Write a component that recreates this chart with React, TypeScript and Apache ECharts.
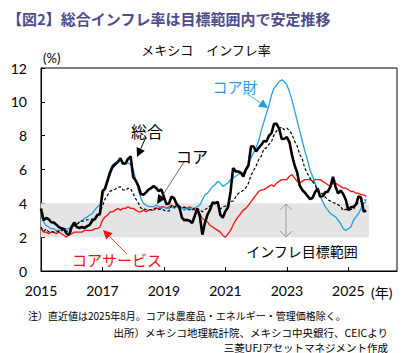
import React, { useEffect, useRef } from 'react';
import * as echarts from 'echarts';

// Monthly data, Jan 2015 .. Aug 2025 (index 0 = Jan 2015)
const headline = [
  3.7, 3.0, 3.14, 3.06, 2.88, 2.87, 2.74, 2.59, 2.52, 2.48, 2.21, 2.13,
  2.61, 2.87, 2.6, 2.54, 2.6, 2.54, 2.65, 2.73, 2.97, 3.06, 3.31, 3.36,
  4.72, 4.86, 5.35, 5.82, 6.16, 6.31, 6.44, 6.66, 6.35, 6.37, 6.63, 6.77,
  5.55, 5.34, 5.04, 4.55, 4.51, 4.65, 4.81, 4.9, 5.02, 4.9, 4.72, 4.83,
  4.37, 3.94, 4.0, 4.41, 4.28, 3.95, 3.78, 3.16, 3.0, 3.02, 2.97, 2.83,
  3.24, 3.7, 3.25, 2.15, 2.84, 3.33, 3.62, 4.05, 4.01, 4.09, 3.33, 3.15,
  3.54, 3.76, 4.67, 6.08, 5.89, 5.88, 5.81, 5.59, 6.0, 6.24, 7.37, 7.36,
  7.07, 7.28, 7.45, 7.68, 7.65, 7.99, 8.15, 8.7, 8.7, 8.41, 7.8, 7.82,
  7.91, 7.62, 6.85, 6.25, 5.84, 5.06, 4.79, 4.64, 4.45, 4.26, 4.32, 4.66,
  4.88, 4.4, 4.42, 4.65, 4.69, 4.98, 5.57, 4.99, 4.58, 4.76, 4.55, 4.21,
  3.59, 3.77, 3.8, 3.93, 4.42, 4.32, 3.51, 3.57,
];
const core = [
  2.6, 2.35, 2.48, 2.31, 2.33, 2.3, 2.31, 2.34, 2.36, 2.47, 2.34, 2.41,
  2.64, 2.66, 2.76, 2.88, 2.95, 2.97, 3.03, 3.03, 3.07, 3.1, 3.29, 3.44,
  3.84, 4.26, 4.48, 4.72, 4.78, 4.83, 4.94, 4.98, 4.8, 4.77, 4.89, 4.87,
  4.56, 4.27, 4.02, 3.71, 3.69, 3.62, 3.63, 3.63, 3.67, 3.73, 3.63, 3.68,
  3.6, 3.54, 3.55, 3.87, 3.77, 3.85, 3.82, 3.78, 3.75, 3.68, 3.65, 3.59,
  3.73, 3.66, 3.6, 3.5, 3.64, 3.71, 3.85, 3.97, 3.99, 3.98, 3.66, 3.8,
  3.84, 3.87, 4.12, 4.13, 4.37, 4.58, 4.66, 4.78, 4.92, 5.19, 5.67, 5.94,
  6.21, 6.59, 6.78, 7.22, 7.28, 7.49, 7.65, 8.05, 8.28, 8.42, 8.51, 8.35,
  8.45, 8.29, 8.09, 7.67, 7.39, 6.89, 6.64, 6.08, 5.76, 5.5, 5.3, 5.09,
  4.76, 4.64, 4.55, 4.37, 4.21, 4.13, 4.05, 4.0, 3.91, 3.8, 3.58, 3.65,
  3.61, 3.65, 3.64, 3.93, 4.06, 4.13, 4.23, 4.18,
];
const coreGoods = [
  3.3, 2.9, 2.7, 2.6, 2.5, 2.5, 2.4, 2.4, 2.4, 2.5, 2.5, 2.5,
  2.7, 2.8, 2.8, 2.9, 3.0, 3.1, 3.2, 3.3, 3.4, 3.6, 3.8, 3.9,
  4.3, 5.0, 5.5, 6.0, 6.3, 6.4, 6.5, 6.6, 6.3, 6.3, 6.4, 6.3,
  6.0, 5.4, 4.8, 4.3, 4.0, 3.9, 3.8, 3.8, 3.8, 3.9, 3.8, 3.7,
  3.8, 3.7, 3.7, 3.8, 3.7, 3.8, 3.7, 3.7, 3.6, 3.7, 3.6, 3.7,
  3.7, 3.8, 3.9, 4.2, 4.5, 4.6, 4.8, 5.0, 5.1, 5.3, 5.2, 5.0,
  5.1, 5.2, 5.4, 5.5, 5.6, 5.7, 5.8, 5.8, 6.0, 6.3, 6.7, 7.0,
  7.3, 7.7, 8.3, 8.8, 9.3, 9.8, 10.4, 10.8, 11.0, 11.2, 11.3, 11.2,
  11.0, 10.6, 10.1, 9.5, 8.9, 8.3, 7.7, 7.1, 6.6, 6.0, 5.6, 5.2,
  4.8, 4.4, 4.1, 3.8, 3.6, 3.4, 3.3, 3.2, 3.0, 2.8, 2.5, 2.4,
  2.5, 2.6, 3.0, 3.2, 3.4, 3.7, 4.0, 4.1,
];
const coreServices = [
  2.5, 2.3, 2.3, 2.2, 2.3, 2.3, 2.2, 2.3, 2.2, 2.1, 2.0, 2.2,
  2.2, 2.3, 2.3, 2.3, 2.3, 2.4, 2.4, 2.4, 2.4, 2.5, 2.5, 2.6,
  3.0, 3.2, 3.3, 3.5, 3.5, 3.6, 3.7, 3.6, 3.7, 3.7, 3.8, 3.7,
  3.7, 3.6, 3.5, 3.5, 3.6, 3.5, 3.6, 3.6, 3.6, 3.7, 3.7, 3.8,
  3.8, 3.7, 3.8, 3.9, 3.8, 3.9, 3.8, 3.7, 3.8, 3.7, 3.8, 3.7,
  3.6, 3.5, 3.4, 3.1, 3.0, 2.9, 2.7, 2.6, 2.5, 2.4, 2.3, 2.1,
  2.0, 2.2, 2.4, 2.7, 3.0, 3.2, 3.4, 3.6, 3.7, 3.9, 4.1, 4.3,
  4.5, 4.7, 4.8, 4.8, 4.9, 5.0, 5.1, 5.0, 5.2, 5.3, 5.4, 5.4,
  5.4, 5.6, 5.7, 5.5, 5.3, 5.2, 5.3, 5.4, 5.4, 5.4, 5.3, 5.4,
  5.4, 5.4, 5.3, 5.2, 5.1, 5.0, 5.2, 5.2, 5.1, 5.0, 4.9, 4.9,
  4.8, 4.7, 4.7, 4.6, 4.6, 4.5, 4.5, 4.4,
];
const START_YEAR = 2015;
const TARGET_LOW = 2;
const TARGET_HIGH = 4;
const BAND_END = 128; // months after Jan 2015
const yTicks = [0, 2, 4, 6, 8, 10, 12];

const CJK = '"Noto Sans CJK JP", sans-serif';
const NUM = 'Lato, "Noto Sans CJK JP", sans-serif';

const toPairs = (arr: number[]) => arr.map((v, i) => [i, v]);

function arrow(
  x1: number, y1: number, x2: number, y2: number,
  headColor: string, lineColor: string, lw: number, hl: number, hw: number
) {
  const dx = x2 - x1, dy = y2 - y1;
  const L = Math.hypot(dx, dy);
  const ux = dx / L, uy = dy / L;
  const bx = x2 - ux * hl, by = y2 - uy * hl;
  const px = -uy, py = ux;
  return [
    { type: 'line', z: 100, silent: true, shape: { x1, y1, x2: bx, y2: by }, style: { stroke: lineColor, lineWidth: lw } },
    {
      type: 'polygon', z: 100, silent: true,
      shape: { points: [[x2, y2], [bx + px * hw, by + py * hw], [bx - px * hw, by - py * hw]] },
      style: { fill: headColor },
    },
  ];
}

function label(text: string, x: number, y: number, color: string, size: number, align = 'center', family = CJK, weight = 'normal') {
  return {
    type: 'text', z: 100, silent: true, x, y,
    style: { text, fill: color, fontSize: size, fontFamily: family, fontWeight: weight, textAlign: align, textVerticalAlign: 'middle' },
  };
}

export default function App() {
  const ref = useRef<HTMLDivElement>(null);
  useEffect(() => {
    const chart = echarts.init(ref.current!, null, { renderer: 'svg' });
    const option: any = {
      animation: false,
      backgroundColor: '#ffffff',
      grid: { left: 41, right: 20, top: 68, bottom: 82, show: true, borderColor: '#000', borderWidth: 1, backgroundColor: 'transparent' },
      xAxis: {
        type: 'value', min: 0, max: 139, interval: 24,
        axisLine: { show: true, lineStyle: { color: '#000', width: 1 } },
        axisTick: { show: true, inside: true, length: 4, lineStyle: { color: '#000' } },
        splitLine: { show: false },
        axisLabel: {
          margin: 12, fontSize: 14, fontFamily: NUM, color: '#000',
          showMaxLabel: false,
          formatter: (v: number) => (v % 24 === 0 ? String(START_YEAR + v / 12) : ''),
        },
      },
      yAxis: {
        type: 'value', min: yTicks[0], max: yTicks[yTicks.length - 1], interval: 2,
        axisLine: { show: true, lineStyle: { color: '#000', width: 1 } },
        axisTick: { show: true, inside: true, length: 4, lineStyle: { color: '#000' } },
        splitLine: { show: false },
        axisLabel: { margin: 14, fontSize: 14, fontFamily: NUM, color: '#000' },
      },
      series: [
        {
          type: 'line', data: [], z: 1, silent: true,
          markArea: {
            silent: true,
            itemStyle: { color: '#e4e4e4' },
            data: [[{ xAxis: 0, yAxis: TARGET_LOW }, { xAxis: BAND_END, yAxis: TARGET_HIGH }]],
          },
        },
        { name: 'コアサービス', type: 'line', data: toPairs(coreServices), z: 3, showSymbol: false, lineStyle: { color: '#f51010', width: 1.3 } },
        { name: 'コア財', type: 'line', data: toPairs(coreGoods), z: 4, showSymbol: false, lineStyle: { color: '#1ea0e6', width: 1.3 } },
        { name: 'コア', type: 'line', data: toPairs(core), z: 5, showSymbol: false, lineStyle: { color: '#000', width: 1.2, type: [3, 2] } },
        { name: '総合', type: 'line', data: toPairs(headline), z: 6, showSymbol: false, lineStyle: { color: '#000', width: 2.6 } },
      ],
      graphic: [
        label('【図2】総合インフレ率は目標範囲内で安定推移', 7, 18, '#4b4c8c', 15, 'left', CJK, 'bold'),
        label('メキシコ　インフレ率', 206, 49, '#000', 13),
        label('(%)', 43, 58, '#000', 13, 'left', NUM),
        label('(年)', 371, 292, '#000', 14, 'left', NUM),
        label('総合', 147, 131, '#000', 16),
        label('コア', 192, 156, '#000', 16),
        label('コア財', 235, 86, '#1ea0e6', 15),
        label('コアサービス', 117, 259, '#f51010', 15),
        label('インフレ目標範囲', 302, 251, '#000', 14),
        ...arrow(146, 137, 137, 157, '#000', '#000', 1, 9, 4.5),
        ...arrow(184, 162, 157, 204, '#000', '#444', 0.8, 9, 4.5),
        ...arrow(246, 93, 268, 108, '#1ea0e6', '#1ea0e6', 0.8, 9, 4.5),
        ...arrow(127, 254, 103, 230, '#f51010', '#f51010', 0.8, 9, 4.5),
        { type: 'line', z: 100, silent: true, shape: { x1: 286, y1: 204, x2: 286, y2: 237 }, style: { stroke: '#999', lineWidth: 1 } },
        { type: 'polyline', z: 100, silent: true, shape: { points: [[280, 210], [286, 204], [292, 210]] }, style: { stroke: '#999', lineWidth: 1, fill: null } },
        { type: 'polyline', z: 100, silent: true, shape: { points: [[280, 231], [286, 237], [292, 231]] }, style: { stroke: '#999', lineWidth: 1, fill: null } },
        label('注）直近値は2025年8月。コアは農産品・エネルギー・管理価格除く。', 28, 315, '#000', 10, 'left'),
        label('出所）メキシコ地理統計院、メキシコ中央銀行、CEICより', 388, 332, '#000', 10.5, 'right'),
        label('三菱UFJアセットマネジメント作成', 388, 347, '#000', 10.5, 'right'),
      ],
    };
    chart.setOption(option);
    return () => chart.dispose();
  }, []);
  return <div ref={ref} style={{ position: 'absolute', left: 0, top: 0, width: 417, height: 353, background: '#fff' }} />;
}
